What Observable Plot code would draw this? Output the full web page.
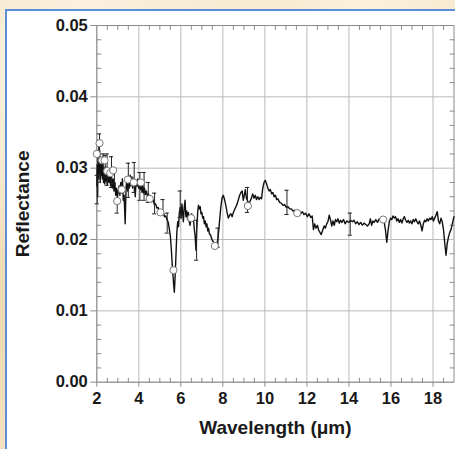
<!DOCTYPE html>
<html>
<head>
<meta charset="utf-8">
<script src="https://cdn.jsdelivr.net/npm/d3@7"></script>
<script src="https://cdn.jsdelivr.net/npm/@observablehq/plot@0.6"></script>
<style>
  html, body { margin: 0; padding: 0; }
  body {
    width: 455px; height: 449px; overflow: hidden; position: relative;
    background:
      radial-gradient(circle at 20% 15%, rgba(255,250,238,0.8) 0, rgba(255,250,238,0) 40%),
      radial-gradient(circle at 80% 5%, rgba(255,248,232,0.7) 0, rgba(255,248,232,0) 35%),
      radial-gradient(circle at 2% 70%, rgba(238,214,170,0.8) 0, rgba(238,214,170,0) 30%),
      #f4e3c4;
  }
  #panel {
    position: absolute; left: 5px; top: 9px; width: 470px; height: 470px;
    background: #ffffff; border: 2px solid #5b8fd8; box-sizing: border-box;
  }
  #chart { position: absolute; left: 0; top: 0; }
</style>
</head>
<body>
<div id="panel"></div>
<div id="chart"></div>
<script>
// Reflectance spectrum (µm, reflectance)
const wavelength = [
  2.00,2.02,2.04,2.06,2.08,2.10,2.12,2.14,2.16,2.18,2.20,2.23,2.26,2.29,2.32,2.35,2.38,2.41,2.44,2.47,
  2.50,2.54,2.58,2.62,2.66,2.70,2.74,2.78,2.82,2.86,2.90,2.94,2.98,3.02,3.06,3.10,3.14,3.18,3.22,3.26,
  3.30,3.35,3.39,3.43,3.47,3.51,3.55,3.59,3.63,3.67,3.71,3.75,3.79,3.83,3.87,3.91,3.95,3.99,4.03,4.07,
  4.11,4.15,4.19,4.23,4.27,4.31,4.36,4.41,4.46,4.51,4.56,4.62,4.68,4.74,4.80,4.86,4.92,4.98,5.04,5.10,
  5.16,5.22,5.28,5.34,5.40,5.45,5.50,5.55,5.60,5.65,5.69,5.73,5.77,5.81,5.85,5.89,5.93,5.97,6.01,6.05,
  6.09,6.12,6.16,6.20,6.24,6.28,6.32,6.36,6.40,6.44,6.48,6.52,6.56,6.60,6.64,6.68,6.72,6.76,6.80,6.84,
  6.88,6.92,6.96,7.00,7.04,7.08,7.12,7.16,7.20,7.24,7.28,7.32,7.36,7.42,7.48,7.54,7.60,7.66,7.72,7.78,
  7.84,7.90,7.96,8.02,8.08,8.14,8.20,8.26,8.32,8.38,8.44,8.50,8.56,8.62,8.68,8.74,8.80,8.86,8.92,8.97,
  9.02,9.07,9.12,9.18,9.24,9.30,9.36,9.42,9.48,9.54,9.60,9.66,9.72,9.78,9.84,9.90,9.96,10.02,10.08,10.14,
  10.20,10.26,10.32,10.38,10.44,10.50,10.56,10.62,10.70,10.78,10.86,10.94,11.02,11.10,11.18,11.26,11.34,11.42,11.50,11.60,
  11.70,11.78,11.86,11.94,12.02,12.10,12.18,12.25,12.31,12.37,12.43,12.50,12.56,12.62,12.68,12.75,12.82,12.88,12.94,13.00,
  13.06,13.12,13.18,13.24,13.30,13.36,13.42,13.48,13.54,13.60,13.66,13.74,13.82,13.90,14.00,14.08,14.16,14.24,14.32,14.40,
  14.48,14.56,14.64,14.72,14.80,14.88,14.96,15.02,15.08,15.14,15.20,15.28,15.36,15.44,15.52,15.60,15.68,15.74,15.80,15.86,
  15.92,15.98,16.04,16.10,16.16,16.22,16.28,16.34,16.40,16.46,16.52,16.58,16.64,16.70,16.76,16.82,16.88,16.94,17.00,17.06,
  17.12,17.18,17.24,17.30,17.36,17.42,17.48,17.54,17.60,17.66,17.72,17.78,17.84,17.90,17.96,18.02,18.08,18.14,18.20,18.26,
  18.32,18.38,18.44,18.50,18.56,18.62,18.68,18.74,18.80,18.86,18.92,18.98,19.00
];
const reflectance = [
  0.0275,0.0305,0.0260,0.0320,0.0285,0.0330,0.0295,0.0325,0.0280,0.0310,0.0290,0.0315,0.0285,0.0305,0.0280,0.0300,0.0278,0.0302,0.0282,0.0296,
  0.0276,0.0293,0.0280,0.0290,0.0275,0.0288,0.0272,0.0285,0.0268,0.0280,0.0262,0.0272,0.0258,0.0268,0.0275,0.0262,0.0280,0.0265,0.0285,0.0255,
  0.0262,0.0222,0.0270,0.0285,0.0268,0.0282,0.0272,0.0290,0.0275,0.0288,0.0272,0.0286,0.0278,0.0260,0.0282,0.0275,0.0285,0.0272,0.0282,0.0270,
  0.0280,0.0266,0.0276,0.0265,0.0272,0.0263,0.0268,0.0260,0.0264,0.0257,0.0260,0.0253,0.0256,0.0249,0.0250,0.0244,0.0245,0.0240,0.0241,0.0236,
  0.0237,0.0232,0.0233,0.0228,0.0224,0.0215,0.0205,0.0185,0.0160,0.0140,0.0126,0.0150,0.0180,0.0210,0.0225,0.0218,0.0238,0.0245,0.0230,0.0250,
  0.0235,0.0225,0.0245,0.0255,0.0232,0.0240,0.0228,0.0238,0.0225,0.0220,0.0232,0.0236,0.0226,0.0228,0.0215,0.0205,0.0185,0.0215,0.0238,0.0248,
  0.0243,0.0246,0.0236,0.0238,0.0230,0.0232,0.0222,0.0226,0.0218,0.0222,0.0212,0.0216,0.0208,0.0206,0.0200,0.0197,0.0194,0.0190,0.0193,0.0205,
  0.0225,0.0245,0.0258,0.0262,0.0256,0.0248,0.0238,0.0230,0.0234,0.0236,0.0232,0.0238,0.0242,0.0246,0.0250,0.0256,0.0262,0.0266,0.0268,0.0255,
  0.0262,0.0270,0.0258,0.0254,0.0250,0.0254,0.0258,0.0264,0.0258,0.0262,0.0256,0.0260,0.0256,0.0259,0.0257,0.0272,0.0280,0.0283,0.0278,0.0272,
  0.0268,0.0270,0.0264,0.0266,0.0260,0.0262,0.0256,0.0257,0.0252,0.0251,0.0248,0.0249,0.0245,0.0246,0.0243,0.0243,0.0240,0.0241,0.0238,0.0238,
  0.0236,0.0239,0.0235,0.0237,0.0232,0.0236,0.0231,0.0233,0.0214,0.0222,0.0216,0.0220,0.0213,0.0210,0.0207,0.0213,0.0219,0.0216,0.0222,0.0225,
  0.0234,0.0228,0.0219,0.0226,0.0220,0.0228,0.0225,0.0229,0.0223,0.0227,0.0224,0.0228,0.0222,0.0226,0.0224,0.0227,0.0225,0.0227,0.0222,0.0225,
  0.0221,0.0224,0.0220,0.0223,0.0221,0.0219,0.0222,0.0229,0.0220,0.0226,0.0224,0.0228,0.0224,0.0229,0.0227,0.0226,0.0224,0.0213,0.0196,0.0212,
  0.0225,0.0230,0.0228,0.0233,0.0230,0.0232,0.0226,0.0229,0.0224,0.0228,0.0223,0.0229,0.0232,0.0227,0.0224,0.0227,0.0223,0.0226,0.0222,0.0228,
  0.0225,0.0229,0.0225,0.0222,0.0226,0.0220,0.0212,0.0222,0.0227,0.0225,0.0229,0.0226,0.0230,0.0228,0.0232,0.0226,0.0230,0.0234,0.0239,0.0226,
  0.0222,0.0230,0.0225,0.0214,0.0195,0.0178,0.0195,0.0204,0.0210,0.0214,0.0222,0.0230,0.0232
];

// Averaged band values (open circles)
const markerWl = [2.00, 2.13, 2.25, 2.37, 2.49, 2.64, 2.78, 2.97, 3.19, 3.48, 3.76, 4.10, 4.52, 5.03, 5.65, 6.49, 7.62, 9.19, 11.54, 15.63];
const markerR  = [0.0320, 0.0335, 0.0311, 0.0311, 0.0296, 0.0293, 0.0297, 0.0254, 0.0270, 0.0284, 0.0280, 0.0280, 0.0257, 0.0238, 0.0157, 0.0230, 0.0191, 0.0247, 0.0237, 0.0228];

// Error bars (low / high)
const errWl = [2.02, 2.13, 2.30, 2.40, 2.49, 2.70, 2.84, 2.97, 3.50, 3.78, 4.05, 4.25, 4.45, 4.75, 5.15, 5.35, 5.97, 6.75, 7.77, 9.17, 11.05, 14.06];
const errLo = [0.0250, 0.0305, 0.0297, 0.0287, 0.0276, 0.0273, 0.0278, 0.0237, 0.0259, 0.0266, 0.0255, 0.0255, 0.0252, 0.0236, 0.0235, 0.0209, 0.0231, 0.0171, 0.0189, 0.0238, 0.0235, 0.0206];
const errHi = [0.0290, 0.0348, 0.0320, 0.0318, 0.0320, 0.0316, 0.0299, 0.0257, 0.0307, 0.0308, 0.0294, 0.0294, 0.0280, 0.0265, 0.0256, 0.0237, 0.0268, 0.0227, 0.0216, 0.0273, 0.0269, 0.0237];

const xMajor = [2, 4, 6, 8, 10, 12, 14, 16, 18];
const yMajor = [0, 0.01, 0.02, 0.03, 0.04, 0.05];
const xMinor = d3.range(2.5, 19, 0.5).filter(v => Math.abs(v - Math.round(v / 2) * 2) > 1e-6);
const yMinor = d3.range(0.002, 0.05, 0.002).filter(v => Math.abs(v * 100 - Math.round(v * 100)) > 1e-6);

const spectrum = wavelength.map((w, i) => ({w, r: reflectance[i]}));
const markers = markerWl.map((w, i) => ({w, r: markerR[i]}));
const errors = errWl.map((w, i) => ({w, lo: errLo[i], hi: errHi[i]}));

const font = "Liberation Sans, Arial, Helvetica, sans-serif";
const tickGray = "#8c8c8c";

// plain straight tick (no arrowhead) for the inward minor ticks
const stick = {draw(context, l) { context.moveTo(0, 0); context.lineTo(0, -l); }};
const minor = {length: 4, anchor: "start", shape: stick, stroke: tickGray, strokeWidth: 1};

const chart = Plot.plot({
  width: 455,
  height: 449,
  marginLeft: 96.3,
  marginRight: 1.5,
  marginTop: 25,
  marginBottom: 67.3,
  style: {background: "transparent", fontFamily: font, color: "#1a1a1a"},
  x: {domain: [2, 19]},
  y: {domain: [0, 0.05]},
  marks: [
    Plot.gridX(xMajor, {stroke: "#b9b9b9", strokeOpacity: 1}),
    Plot.gridY(yMajor, {stroke: "#b9b9b9", strokeOpacity: 1}),
    Plot.frame({stroke: tickGray}),
    // minor ticks on all four sides, pointing inward
    Plot.vector(xMinor, {x: d => d, y: 0, rotate: 0, ...minor}),
    Plot.vector(xMinor, {x: d => d, y: 0.05, rotate: 180, ...minor}),
    Plot.vector(yMinor, {x: 2, y: d => d, rotate: 90, ...minor}),
    Plot.vector(yMinor, {x: 19, y: d => d, rotate: 270, ...minor}),
    Plot.axisX({ticks: xMajor, tickSize: 5, tickPadding: 5, stroke: tickGray, fontSize: 16.5, fontWeight: "bold", fill: "#1a1a1a", label: null}),
    Plot.axisY({ticks: yMajor, tickFormat: d3.format(".2f"), tickSize: 6, tickPadding: 3, stroke: tickGray, fontSize: 16.5, fontWeight: "bold", fill: "#1a1a1a", label: null}),
    Plot.line(spectrum, {x: "w", y: "r", stroke: "#111", strokeWidth: 1.4, strokeLinejoin: "round"}),
    Plot.ruleX(errors, {x: "w", y1: "lo", y2: "hi", stroke: "#222", strokeWidth: 1}),
    Plot.ruleY(errors, {y: "lo", x1: d => d.w - 0.1, x2: d => d.w + 0.1, stroke: "#222", strokeWidth: 1}),
    Plot.ruleY(errors, {y: "hi", x1: d => d.w - 0.1, x2: d => d.w + 0.1, stroke: "#222", strokeWidth: 1}),
    Plot.dot(markers, {x: "w", y: "r", r: 3.6, fill: "white", stroke: "#777", strokeWidth: 1}),
    Plot.text(["Wavelength (μm)"], {frameAnchor: "bottom", textAnchor: "middle", dy: 52, fontSize: 19, fontWeight: "bold", fill: "#1a1a1a"}),
    Plot.text(["Reflectance"], {frameAnchor: "left", textAnchor: "middle", dx: -74, rotate: -90, fontSize: 19, fontWeight: "bold", fill: "#1a1a1a"})
  ]
});
document.getElementById("chart").append(chart);
</script>
</body>
</html>
